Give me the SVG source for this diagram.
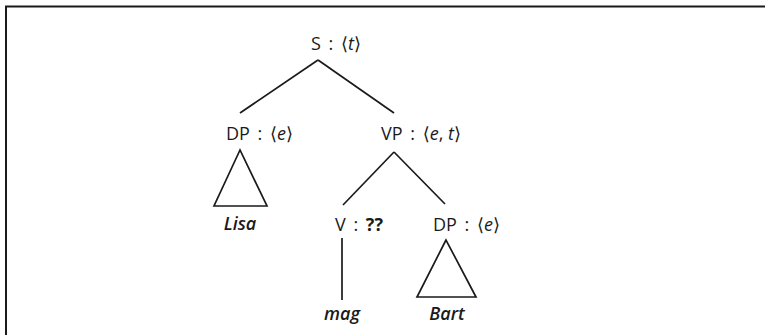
<svg xmlns="http://www.w3.org/2000/svg" width="765" height="335" viewBox="0 0 765 335">
<style>
.lbl{font-family:"Open Sans","DejaVu Sans",sans-serif;font-size:18px;font-weight:500;fill:#1a1a1a;word-spacing:3px}
.it{font-style:italic}
.w{font-weight:600}
.b{font-weight:bold}
.ns{word-spacing:0}
.edge{stroke:#1a1a1a;stroke-width:1.7;fill:none}
</style>
<rect width="765" height="335" fill="#fff"/>
<path d="M6,335 V6.5 H765" stroke="#1a1a1a" stroke-width="2" fill="none"/>
<g id="connectors">
<line class="edge" x1="318" y1="60" x2="240" y2="113"/>
<line class="edge" x1="318" y1="60" x2="394" y2="113"/>
<line class="edge" x1="394" y1="152" x2="343" y2="205"/>
<line class="edge" x1="394" y1="152" x2="445" y2="204"/>
<line class="edge" x1="342" y1="238" x2="342" y2="300"/>
</g>
<g id="S"><text class="lbl" x="311" y="50">S : ⟨<tspan class="it">t</tspan>⟩</text></g>
<g id="DP1"><text class="lbl" x="226" y="140">DP : ⟨<tspan class="it">e</tspan>⟩</text></g>
<g id="VP"><text class="lbl" x="381" y="140">VP : ⟨<tspan class="it">e</tspan><tspan class="ns">, </tspan><tspan class="it">t</tspan>⟩</text></g>
<g id="Lisa">
<polygon class="edge" points="240,150 214,206 267,206"/>
<text class="lbl it w" x="240" y="230" text-anchor="middle">Lisa</text>
</g>
<g id="V"><text class="lbl" x="335" y="231">V : <tspan class="b">??</tspan></text></g>
<g id="DP2"><text class="lbl" x="433" y="231">DP : ⟨<tspan class="it">e</tspan>⟩</text></g>
<g id="mag"><text class="lbl it w" x="342" y="320" text-anchor="middle">mag</text></g>
<g id="Bart">
<polygon class="edge" points="446,240 417,297 476,297"/>
<text class="lbl it w" x="447" y="320" text-anchor="middle">Bart</text>
</g>
</svg>
